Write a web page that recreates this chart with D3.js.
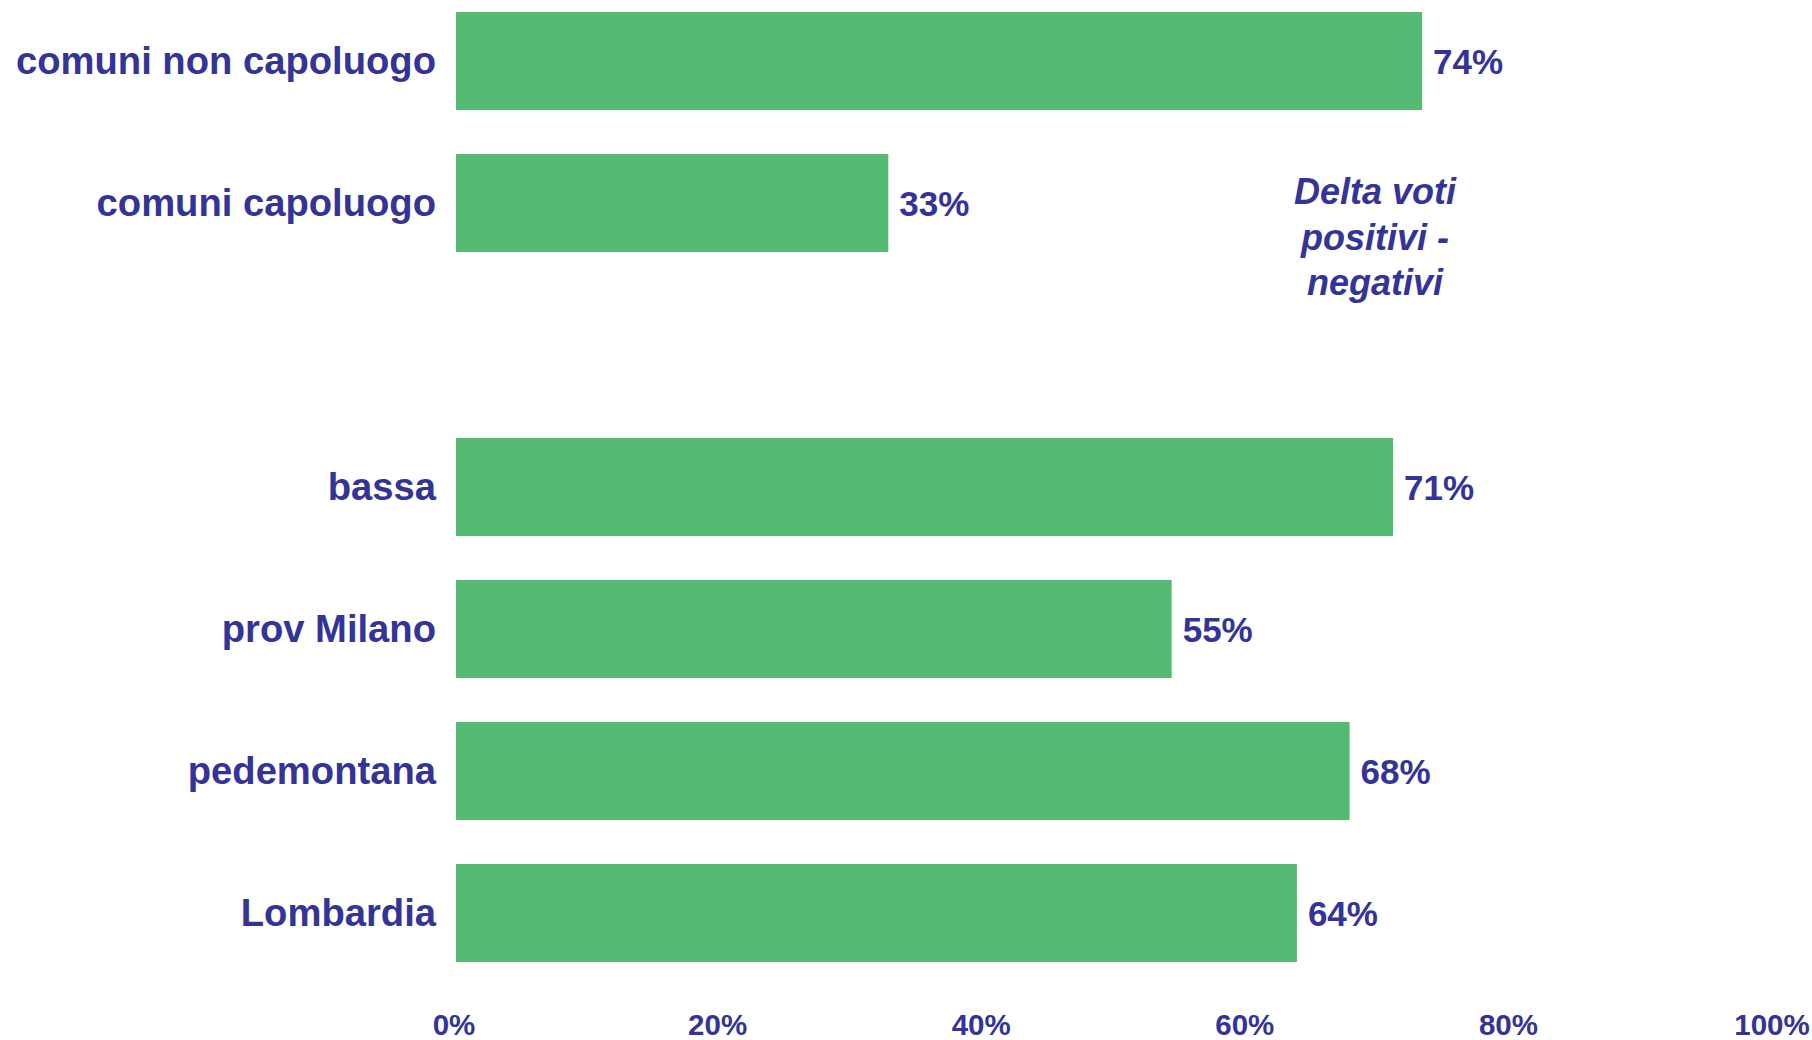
<!DOCTYPE html>
<html>
<head>
<meta charset="utf-8">
<script src="https://cdn.jsdelivr.net/npm/d3@7"></script>
<style>
  body { margin: 0; background: #fff; }
  text { font-family: Arial, "Liberation Sans", sans-serif; font-weight: bold; fill: #333399; }
</style>
</head>
<body>
<script>
// Data (blank entry = gap between the two groups)
let categories = ['comuni non capoluogo', 'comuni capoluogo', ' ', 'bassa', 'prov Milano', 'pedemontana', 'Lombardia']
let values = [73.3, 32.8, null, 71.1, 54.3, 67.8, 63.8]
let labels = ['74%', '33%', '', '71%', '55%', '68%', '64%']
let xTicks = [0, 20, 40, 60, 80, 100]
let noteLines = ['Delta voti', 'positivi -', 'negativi']

let width = 1812
let height = 1040

let margin = { left: 456, top: -10, right: 38, bottom: 66 }

let chartWidth = width - margin.left - margin.right
let chartHeight = 994

let svg = d3.select('body')
    .append('svg')
    .attr('width', width)
    .attr('height', height)

let chartGroup = svg.append('g')
    .attr('transform', `translate(${margin.left}, ${margin.top})`)

let data = categories.map((c, i) => ({ cat: c, value: values[i], label: labels[i] }))

// Scales
let xScale = d3.scaleLinear()
    .domain([0, 100])
    .range([0, chartWidth])

let yScale = d3.scaleBand()
    .domain(categories)
    .range([0, chartHeight])
    .paddingInner(0.31)
    .paddingOuter(0.155)

// Category axis
let yAxis = d3.axisLeft(yScale).tickSize(0).tickPadding(20)
let yAxisG = chartGroup.append('g').call(yAxis)
yAxisG.select('.domain').remove()
yAxisG.selectAll('text')
    .attr('dy', '0.35em')
    .style('font-size', '38.2px')
    .style('font-family', 'Arial, "Liberation Sans", sans-serif')
    .style('fill', '#333399')

// Value axis (labels only)
let xAxis = d3.axisBottom(xScale)
    .tickValues(xTicks)
    .tickFormat(d => d + '%')
    .tickSize(0)
    .tickPadding(3)
let xAxisG = chartGroup.append('g')
    .attr('transform', `translate(0, ${1011 - margin.top})`)
    .call(xAxis)
xAxisG.select('.domain').remove()
xAxisG.selectAll('text')
    .attr('dx', -2.5)
    .style('font-size', '29.5px')
    .style('font-family', 'Arial, "Liberation Sans", sans-serif')
    .style('fill', '#333399')

// Bars
let barData = data.filter(d => d.value != null)

chartGroup.selectAll('rect.bar')
    .data(barData)
    .join('rect')
    .attr('class', 'bar')
    .attr('x', xScale(0))
    .attr('y', d => yScale(d.cat))
    .attr('width', d => xScale(d.value) - xScale(0))
    .attr('height', yScale.bandwidth())
    .attr('fill', '#55ba72')

// Value labels
chartGroup.selectAll('text.val')
    .data(barData)
    .join('text')
    .attr('class', 'val')
    .attr('x', d => xScale(d.value) + 11)
    .attr('y', d => yScale(d.cat) + yScale.bandwidth() / 2)
    .attr('dy', '0.36em')
    .style('font-size', '35px')
    .text(d => d.label)

// Note
svg.append('text')
    .attr('x', 1375)
    .attr('y', 204)
    .attr('text-anchor', 'middle')
    .style('font-size', '36px')
    .style('font-style', 'italic')
    .selectAll('tspan')
    .data(noteLines)
    .join('tspan')
    .attr('x', 1375)
    .attr('dy', (d, i) => i === 0 ? 0 : 45.5)
    .text(d => d)
</script>
</body>
</html>
